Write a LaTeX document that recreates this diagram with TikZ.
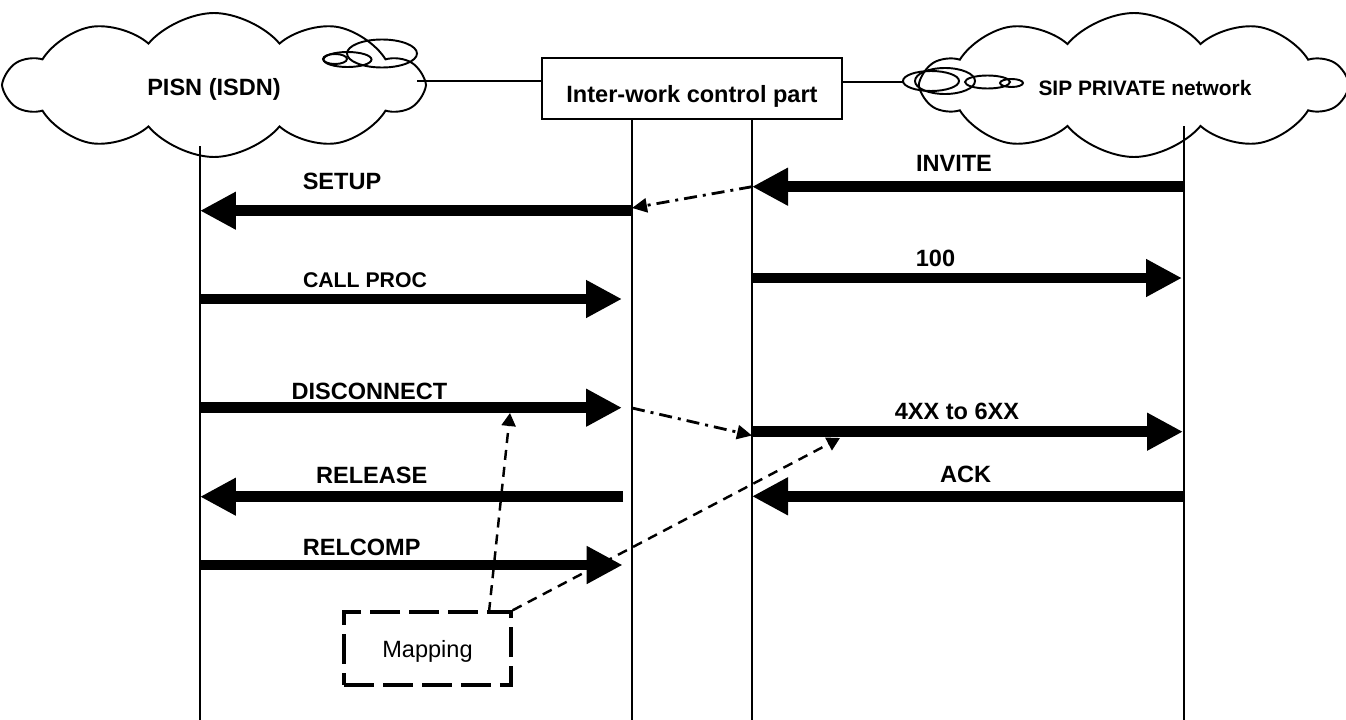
\documentclass[tikz,border=0pt]{standalone}
\usepackage{fontspec}
\setmainfont{Liberation Sans}
\usetikzlibrary{arrows.meta,shapes.symbols}

\begin{document}
\begin{tikzpicture}
[x=0.02cm,y=-0.02cm,line width=1.1pt,
 font=\fontsize{13.4}{16}\selectfont\bfseries,
 msg/.style={line width=6.2pt,-{Triangle[length=0.72cm,width=0.71cm]}},
 link/.style={line width=1.6pt,dash pattern=on 0.26cm off 0.12cm on 0.06cm off 0.12cm,-{Triangle[length=0.3cm,width=0.28cm]}},
 maplink/.style={line width=1.4pt,dash pattern=on 0.2cm off 0.14cm,-{Triangle[length=0.26cm,width=0.28cm]}},
 net/.style={cloud,draw,cloud puffs=10,cloud puff arc=100,minimum height=2.88cm,inner sep=0pt}]
\useasboundingbox (0,0) rectangle (1346,720);

% networks and the inter-work box
\node[net,minimum width=8.32cm] (pisn) at (214,85) {};
\node[net,minimum width=8.44cm] (sip) at (1134,85) {};
\node[anchor=base] (pisnLbl) at (214,95) {PISN (ISDN)};
\node[anchor=base,font=\fontsize{11.9}{14}\selectfont\bfseries] (sipLbl) at (1145,95) {SIP PRIVATE network};
\node[draw,minimum width=6cm,minimum height=1.22cm] (iwf) at (692,88.7) {};
\node[anchor=base] (iwfLbl) at (692,102.7) {Inter-work control part};

% bubbles
\draw (382,53.5) ellipse [x radius=35, y radius=14];
\draw (347.5,59.5) ellipse [x radius=24, y radius=7.5];
\draw (335,59) ellipse [x radius=12, y radius=5];
\draw (931,81) ellipse [x radius=28, y radius=10];
\draw (945,81) ellipse [x radius=30, y radius=13];
\draw (987.5,82) ellipse [x radius=22.5, y radius=6.5];
\draw (1011.5,83) ellipse [x radius=11.5, y radius=4];

\coordinate (netL) at (417,81);
\coordinate (netR) at (903,81.7);
\draw (netL) -- (netL -| iwf.west);
\draw (iwf.east |- netR) -- (netR);

% lifelines
\coordinate (isdn) at (200,146);  \coordinate (isdnEnd) at (200,720);
\coordinate (cpL) at (632,119);   \coordinate (cpLEnd) at (632,720);
\coordinate (cpR) at (752,119);   \coordinate (cpREnd) at (752,720);
\coordinate (sipl) at (1184,126); \coordinate (siplEnd) at (1184,720);
\draw (isdn) -- (isdnEnd);
\draw (cpL) -- (cpLEnd);
\draw (cpR) -- (cpREnd);
\draw (sipl) -- (siplEnd);

% messages
\foreach \m/\a/\b/\y in {invite/1183/752/186.7, setup/632/200/210.7, hundred/752/1182/278,
  callproc/200/622/299, disc/200/622/407.7, fourxx/752/1183/431.7,
  ack/1183/752/496.3, release/623/200/496.7, relcomp/200/622.7/565}
  {\coordinate (\m-a) at (\a,\y); \coordinate (\m-b) at (\b,\y);}

\path
(invite-a) edge[msg] (invite-b)
(setup-a) edge[msg] (setup-b)
(hundred-a) edge[msg] (hundred-b)
(callproc-a) edge[msg] (callproc-b)
(disc-a) edge[msg] (disc-b)
(fourxx-a) edge[msg] (fourxx-b)
(ack-a) edge[msg] (ack-b)
(release-a) edge[msg] (release-b)
(relcomp-a) edge[msg] (relcomp-b);

\node[anchor=base] (inviteLbl) at (954,171.7) {INVITE};
\node[anchor=base] (setupLbl) at (342,189.3) {SETUP};
\node[anchor=base] (hundredLbl) at (935.5,266.7) {100};
\node[anchor=base,font=\fontsize{12.1}{14}\selectfont\bfseries] (callprocLbl) at (365,287.3) {CALL PROC};
\node[anchor=base] (discLbl) at (369.5,399.3) {DISCONNECT};
\node[anchor=base] (fourxxLbl) at (957,419.3) {4XX to 6XX};
\node[anchor=base] (ackLbl) at (965.5,482.7) {ACK};
\node[anchor=base] (releaseLbl) at (371.7,483.3) {RELEASE};
\node[anchor=base] (relcompLbl) at (361.7,555) {RELCOMP};

% interworking
\coordinate (setupIn) at (632,208);
\coordinate (discOut) at (632,408);
\coordinate (fourIn) at (752,435.5);
\draw[link] (invite-b) -- (setupIn);
\draw[link] (discOut) -- (fourIn);

% mapping
\node[draw,line width=2pt,dash pattern=on 0.6cm off 0.18cm,minimum width=3.34cm,minimum height=1.46cm,
  text depth=0pt,font=\fontsize{13.4}{16}\selectfont] (map) at (427.5,648.5) {Mapping};
\coordinate (mapTop) at (489,612);
\coordinate (discHit) at (510,413);
\coordinate (fourHit) at (840,438);
\draw[maplink] (mapTop) -- (discHit);
\draw[maplink] (map.north east) -- (fourHit);
\end{tikzpicture}
\end{document}
